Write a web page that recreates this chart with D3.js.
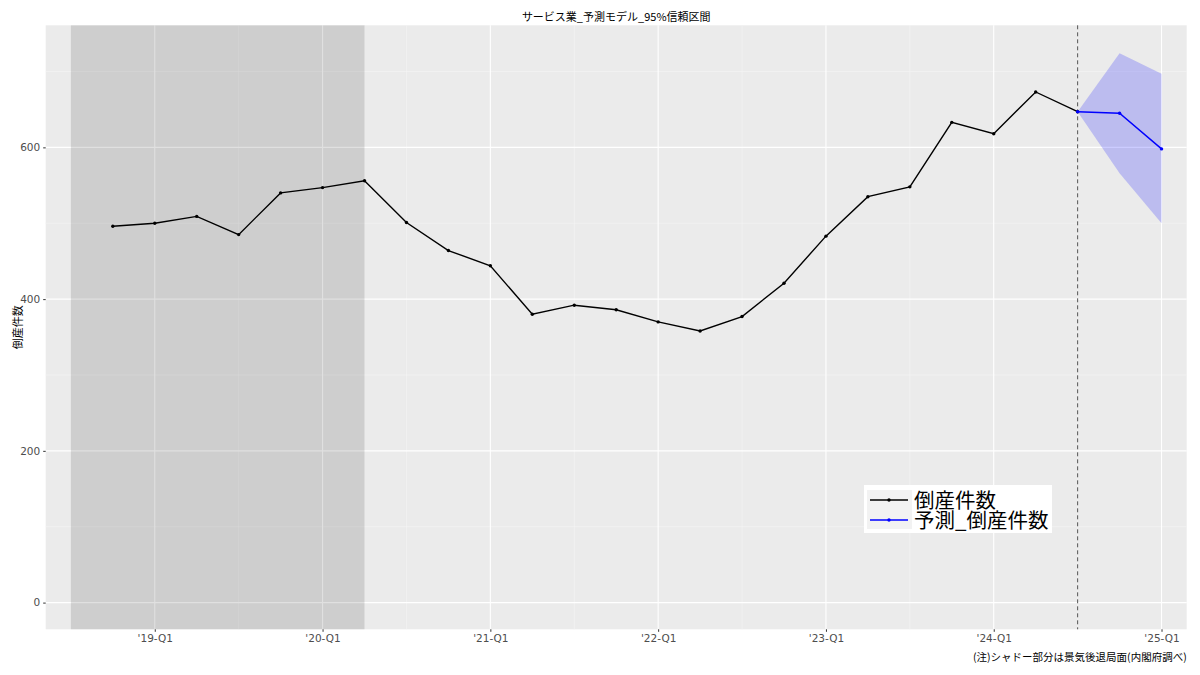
<!DOCTYPE html>
<html><head><meta charset="utf-8">
<script src="https://cdn.jsdelivr.net/npm/d3@7"></script>
<style>body{margin:0;background:#fff}svg{display:block}</style>
</head><body>
<svg id="c" width="1200" height="675"></svg>
<script>
// quarter labels, index 0 = '18-Q3
const quarters = ["'18-Q3","'18-Q4","'19-Q1","'19-Q2","'19-Q3","'19-Q4","'20-Q1","'20-Q2","'20-Q3","'20-Q4",
  "'21-Q1","'21-Q2","'21-Q3","'21-Q4","'22-Q1","'22-Q2","'22-Q3","'22-Q4","'23-Q1","'23-Q2","'23-Q3","'23-Q4",
  "'24-Q1","'24-Q2","'24-Q3","'24-Q4","'25-Q1"];
const actualQ = ["'18-Q4","'19-Q1","'19-Q2","'19-Q3","'19-Q4","'20-Q1","'20-Q2","'20-Q3","'20-Q4",
  "'21-Q1","'21-Q2","'21-Q3","'21-Q4","'22-Q1","'22-Q2","'22-Q3","'22-Q4","'23-Q1","'23-Q2","'23-Q3","'23-Q4",
  "'24-Q1","'24-Q2","'24-Q3"];
const actualVals = [496,500,509,485,540,547,556,501,464,444,380,392,386,370,358,377,421,483,535,548,633,618,673,647];
const forecastQ = ["'24-Q3","'24-Q4","'25-Q1"];
const forecastVals = [647,645,598];
const upperVals = [647,724,697];
const lowerVals = [647,566,500];
const tickLabels = ["'19-Q1","'20-Q1","'21-Q1","'22-Q1","'23-Q1","'24-Q1","'25-Q1"];
const yTicks = [0,200,400,600];
const yMinor = [100,300,500,700];
const recession = ["'18-Q3","'20-Q2"];
const cutoff = "'24-Q3";
const title = "サービス業_予測モデル_95%信頼区間";
const yTitle = "倒産件数";
const caption = "(注)シャドー部分は景気後退局面(内閣府調べ)";
const legendLabels = ["倒産件数","予測_倒産件数"];
const legendColors = ["#000000","#0000ff"];

const qi = q => quarters.indexOf(q);
const panel = {l:45.7, r:1186.7, t:25.3, b:629.3};
const x = d3.scaleLinear().domain([-0.6, 26.6]).range([panel.l, panel.r]);
const y = d3.scaleLinear().domain([-35.2, 760.9]).range([panel.b, panel.t]);

const svg = d3.select("#c");
const jp = "'Noto Sans CJK JP', 'DejaVu Sans', sans-serif";
const sans = "'DejaVu Sans', 'Noto Sans CJK JP', sans-serif";

svg.append("rect").attr("x",panel.l).attr("y",panel.t).attr("width",panel.r-panel.l).attr("height",panel.b-panel.t).attr("fill","#ebebeb");

// minor grid
const xMinorVals = tickLabels.slice(0,-1).map(t=>qi(t)+2);
svg.append("g").selectAll("line").data(yMinor).join("line")
  .attr("x1",panel.l).attr("x2",panel.r).attr("y1",d=>y(d)).attr("y2",d=>y(d))
  .attr("stroke","#f5f5f5").attr("stroke-width",0.6);
svg.append("g").selectAll("line").data(xMinorVals).join("line")
  .attr("y1",panel.t).attr("y2",panel.b).attr("x1",d=>x(d)).attr("x2",d=>x(d))
  .attr("stroke","#f5f5f5").attr("stroke-width",0.6);
// major grid
svg.append("g").selectAll("line").data(yTicks).join("line")
  .attr("x1",panel.l).attr("x2",panel.r).attr("y1",d=>y(d)).attr("y2",d=>y(d))
  .attr("stroke","#fff").attr("stroke-width",1.1);
svg.append("g").selectAll("line").data(tickLabels).join("line")
  .attr("y1",panel.t).attr("y2",panel.b).attr("x1",d=>x(qi(d))).attr("x2",d=>x(qi(d)))
  .attr("stroke","#fff").attr("stroke-width",1.1);

// recession shade
svg.append("rect").attr("x",x(qi(recession[0]))).attr("y",panel.t)
  .attr("width",x(qi(recession[1]))-x(qi(recession[0]))).attr("height",panel.b-panel.t)
  .attr("fill","#000").attr("fill-opacity",0.12);

// ribbon
const rib = forecastQ.map((q,i)=>({x:qi(q),lo:lowerVals[i],hi:upperVals[i]}));
svg.append("path").datum(rib)
  .attr("d", d3.area().x(d=>x(d.x)).y0(d=>y(d.lo)).y1(d=>y(d.hi)))
  .attr("fill","#0000ff").attr("fill-opacity",0.2);

// dashed cutoff
svg.append("line").attr("x1",x(qi(cutoff))).attr("x2",x(qi(cutoff))).attr("y1",panel.t).attr("y2",panel.b)
  .attr("stroke","#555").attr("stroke-width",1).attr("stroke-dasharray","4,3");

const line = d3.line().x(d=>x(d.x)).y(d=>y(d.v));
const act = actualQ.map((q,i)=>({x:qi(q),v:actualVals[i]}));
const fc = forecastQ.map((q,i)=>({x:qi(q),v:forecastVals[i]}));
svg.append("path").datum(act).attr("d",line).attr("fill","none").attr("stroke","#000").attr("stroke-width",1.4);
svg.append("g").selectAll("circle").data(act).join("circle").attr("cx",d=>x(d.x)).attr("cy",d=>y(d.v)).attr("r",1.7).attr("fill","#000");
svg.append("path").datum(fc).attr("d",line).attr("fill","none").attr("stroke","#0000ff").attr("stroke-width",1.4);
svg.append("g").selectAll("circle").data(fc).join("circle").attr("cx",d=>x(d.x)).attr("cy",d=>y(d.v)).attr("r",1.7).attr("fill","#0000ff");

// axes
const yAxis = d3.axisLeft(y).tickValues(yTicks).tickSize(2.5).tickPadding(3);
const gy = svg.append("g").attr("transform",`translate(${panel.l},0)`).call(yAxis);
gy.select(".domain").remove();
gy.selectAll("line").attr("stroke","#333");
gy.selectAll("text").attr("fill","#4d4d4d").attr("font-size",10.5).attr("font-family",sans);

const xAxis = d3.axisBottom(x).tickValues(tickLabels.map(qi)).tickFormat(d=>quarters[d]).tickSize(2.5).tickPadding(3);
const gx = svg.append("g").attr("transform",`translate(0,${panel.b})`).call(xAxis);
gx.select(".domain").remove();
gx.selectAll("line").attr("stroke","#333");
gx.selectAll("text").attr("fill","#4d4d4d").attr("font-size",10.5).attr("font-family",sans);

// titles
svg.append("text").attr("x",(panel.l+panel.r)/2).attr("y",21).attr("text-anchor","middle")
  .attr("font-size",11).attr("font-family",jp).attr("fill","#000").text(title);
svg.append("text").attr("transform",`translate(22,${(panel.t+panel.b)/2}) rotate(-90)`).attr("text-anchor","middle")
  .attr("font-size",11).attr("font-family",jp).attr("fill","#000").text(yTitle);
svg.append("text").attr("x",panel.r).attr("y",661).attr("text-anchor","end")
  .attr("font-size",10.5).attr("font-family",jp).attr("fill","#000").text(caption);

// legend
const lg = svg.append("g");
lg.append("rect").attr("x",864).attr("y",485).attr("width",188).attr("height",48).attr("fill","#fff");
lg.append("rect").attr("x",867).attr("y",490).attr("width",45).attr("height",39).attr("fill","#f2f2f2");
legendLabels.forEach((lab,i)=>{
  const cy = 500 + i*20;
  lg.append("line").attr("x1",870).attr("x2",908).attr("y1",cy).attr("y2",cy).attr("stroke",legendColors[i]).attr("stroke-width",1.4);
  lg.append("circle").attr("cx",889).attr("cy",cy).attr("r",1.7).attr("fill",legendColors[i]);
  lg.append("text").attr("x",914).attr("y",cy+7.5).attr("font-size",20.5).attr("font-family",jp).attr("fill","#000").text(lab);
});
</script>
</body></html>
